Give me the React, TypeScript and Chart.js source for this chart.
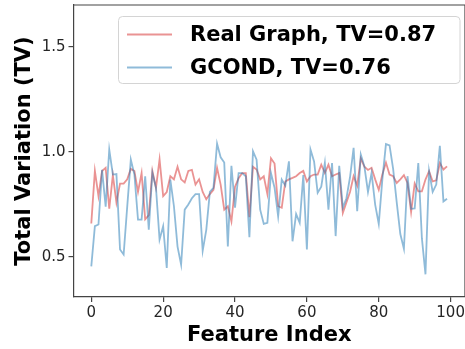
import React, { useEffect, useRef } from 'react';
import { Chart, registerables } from 'chart.js';

Chart.register(...registerables);

const featureIndex: number[] = Array.from({ length: 100 }, (_, i) => i);

const realGraph: number[] = [
  0.66, 0.91, 0.79, 0.91, 0.925, 0.73, 0.89, 0.76, 0.85, 0.85,
  0.87, 0.92, 0.91, 0.81, 0.90, 0.68, 0.70, 0.91, 0.83, 0.965,
  0.79, 0.81, 0.885, 0.87, 0.93, 0.87, 0.855, 0.91, 0.915, 0.845,
  0.87, 0.81, 0.775, 0.80, 0.82, 0.925, 0.845, 0.726, 0.742, 0.67,
  0.835, 0.875, 0.90, 0.90, 0.69, 0.93, 0.917, 0.87, 0.885, 0.80,
  0.97, 0.945, 0.742, 0.735, 0.86, 0.87, 0.877, 0.885, 0.90, 0.91,
  0.86, 0.885, 0.893, 0.893, 0.94, 0.90, 0.94, 0.885, 0.893, 0.90,
  0.71, 0.76, 0.81, 0.885, 0.84, 0.97, 0.93, 0.915, 0.925, 0.87,
  0.82, 0.893, 0.95, 0.893, 0.885, 0.853, 0.87, 0.89, 0.853, 0.715,
  0.85, 0.813, 0.813, 0.869, 0.909, 0.86, 0.865, 0.948, 0.917, 0.932,
];

const gcond: number[] = [
  0.456, 0.647, 0.655, 0.915, 0.74, 1.012, 0.893, 0.895, 0.536, 0.512,
  0.74, 0.964, 0.893, 0.678, 0.678, 0.885, 0.63, 0.90, 0.83, 0.583,
  0.647, 0.448, 0.869, 0.742, 0.55, 0.464, 0.726, 0.75, 0.78, 0.80,
  0.80, 0.53, 0.63, 0.81, 0.83, 1.04, 0.975, 0.95, 0.55, 0.935,
  0.735, 0.90, 0.90, 0.885, 0.595, 1.004, 0.964, 0.726, 0.658, 0.663,
  0.90, 0.83, 0.694, 0.869, 0.84, 0.956, 0.575, 0.705, 0.663, 0.89,
  0.536, 1.012, 0.955, 0.806, 0.835, 0.948, 0.726, 0.948, 0.60, 0.935,
  0.735, 0.78, 0.88, 1.02, 0.718, 0.988, 0.932, 0.81, 0.90, 0.75,
  0.658, 0.87, 1.038, 1.032, 0.92, 0.76, 0.61, 0.54, 0.885, 0.73,
  0.732, 0.948, 0.59, 0.418, 0.91, 0.81, 0.845, 1.03, 0.765, 0.778,
];

const seriesLabels: string[] = ['Real Graph, TV=0.87', 'GCOND, TV=0.76'];
const xTicks: number[] = [0, 20, 40, 60, 80, 100];
const yTicks: number[] = [0.5, 1.0, 1.5];
const xTitle = 'Feature Index';
const yTitle = 'Total Variation (TV)';

const RED = 'rgba(214, 39, 40, 0.5)';
const BLUE = 'rgba(31, 119, 180, 0.5)';
const FONT = "'DejaVu Sans', sans-serif";

const framePlugin = {
  id: 'frameAndLegend',
  afterDatasetsDraw(chart: any) {
    const { ctx, chartArea } = chart;
    ctx.save();
    // top and right spines
    ctx.strokeStyle = '#444';
    ctx.lineWidth = 1.2;
    ctx.beginPath();
    ctx.moveTo(chartArea.left, chartArea.top);
    ctx.lineTo(chartArea.right, chartArea.top);
    ctx.lineTo(chartArea.right, chartArea.bottom);
    ctx.stroke();

    // legend box
    const bx = 118.5, by = 16.5, bw = 341.5, bh = 67, r = 4;
    ctx.beginPath();
    ctx.moveTo(bx + r, by);
    ctx.lineTo(bx + bw - r, by);
    ctx.arcTo(bx + bw, by, bx + bw, by + r, r);
    ctx.lineTo(bx + bw, by + bh - r);
    ctx.arcTo(bx + bw, by + bh, bx + bw - r, by + bh, r);
    ctx.lineTo(bx + r, by + bh);
    ctx.arcTo(bx, by + bh, bx, by + bh - r, r);
    ctx.lineTo(bx, by + r);
    ctx.arcTo(bx, by, bx + r, by, r);
    ctx.closePath();
    ctx.fillStyle = 'rgba(255,255,255,0.8)';
    ctx.fill();
    ctx.strokeStyle = '#d4d4d4';
    ctx.lineWidth = 1;
    ctx.stroke();

    const rows = [34.5, 67.5];
    chart.data.datasets.forEach((ds: any, i: number) => {
      const y = rows[i];
      ctx.strokeStyle = ds.borderColor;
      ctx.lineWidth = 1.8;
      ctx.beginPath();
      ctx.moveTo(127, y);
      ctx.lineTo(172, y);
      ctx.stroke();
      ctx.fillStyle = '#000';
      ctx.font = `bold 21px ${FONT}`;
      ctx.textBaseline = 'middle';
      ctx.textAlign = 'left';
      ctx.fillText(ds.label, 190, y + 1);
    });
    ctx.restore();
  },
};

export default function App() {
  const canvasRef = useRef<HTMLCanvasElement | null>(null);

  useEffect(() => {
    document.body.style.margin = '0';
    const canvas = canvasRef.current;
    if (!canvas) return;
    const chart = new Chart(canvas, {
      type: 'line',
      data: {
        datasets: [
          {
            label: seriesLabels[0],
            data: featureIndex.map((x, i) => ({ x, y: realGraph[i] })),
            borderColor: RED,
            borderWidth: 1.8,
            pointRadius: 0,
            tension: 0,
            fill: false,
            order: 2,
          },
          {
            label: seriesLabels[1],
            data: featureIndex.map((x, i) => ({ x, y: gcond[i] })),
            borderColor: BLUE,
            borderWidth: 1.8,
            pointRadius: 0,
            tension: 0,
            fill: false,
            order: 1,
          },
        ],
      },
      options: {
        animation: false,
        responsive: false,
        maintainAspectRatio: false,
        layout: { padding: { left: 0, right: 0, top: 5, bottom: 0 } },
        plugins: {
          legend: { display: false },
          tooltip: { enabled: false },
        },
        scales: {
          x: {
            type: 'linear',
            min: -4.95,
            max: 104,
            afterBuildTicks: (s: any) => {
              s.ticks = xTicks.map((v) => ({ value: v }));
            },
            afterFit: (s: any) => {
              s.height = 52;
              s.paddingLeft = 0;
              s.paddingRight = 0;
            },
            ticks: {
              color: '#262626',
              font: { family: FONT, size: 15 },
              padding: 2,
              maxRotation: 0,
              callback: (v: any) => String(v),
            },
            grid: {
              display: true,
              drawOnChartArea: false,
              drawTicks: true,
              tickLength: 5,
              color: '#444',
              lineWidth: 1.2,
            },
            border: { display: true, color: '#444', width: 1.2 },
            title: {
              display: true,
              text: xTitle,
              color: '#000',
              font: { family: FONT, size: 21, weight: 'bold', lineHeight: 1.2 },
              padding: { top: 0, bottom: 1 },
            },
          },
          y: {
            type: 'linear',
            min: 0.31,
            max: 1.70,
            afterBuildTicks: (s: any) => {
              s.ticks = yTicks.map((v) => ({ value: v }));
            },
            afterFit: (s: any) => {
              s.width = 73.5;
              s.paddingTop = 0;
              s.paddingBottom = 0;
            },
            ticks: {
              color: '#262626',
              font: { family: FONT, size: 15 },
              padding: 3,
              callback: (v: any) => Number(v).toFixed(1),
            },
            grid: {
              display: true,
              drawOnChartArea: false,
              drawTicks: true,
              tickLength: 5,
              color: '#444',
              lineWidth: 1.2,
            },
            border: { display: true, color: '#444', width: 1.2 },
            title: {
              display: true,
              text: yTitle,
              color: '#000',
              font: { family: FONT, size: 21, weight: 'bold', lineHeight: 1.2 },
              padding: { top: 12, bottom: 0 },
            },
          },
        },
      } as any,
      plugins: [framePlugin],
    });
    return () => chart.destroy();
  }, []);

  return (
    <div style={{ width: 465, height: 349 }}>
      <canvas ref={canvasRef} width={465} height={349} style={{ display: 'block' }} />
    </div>
  );
}
